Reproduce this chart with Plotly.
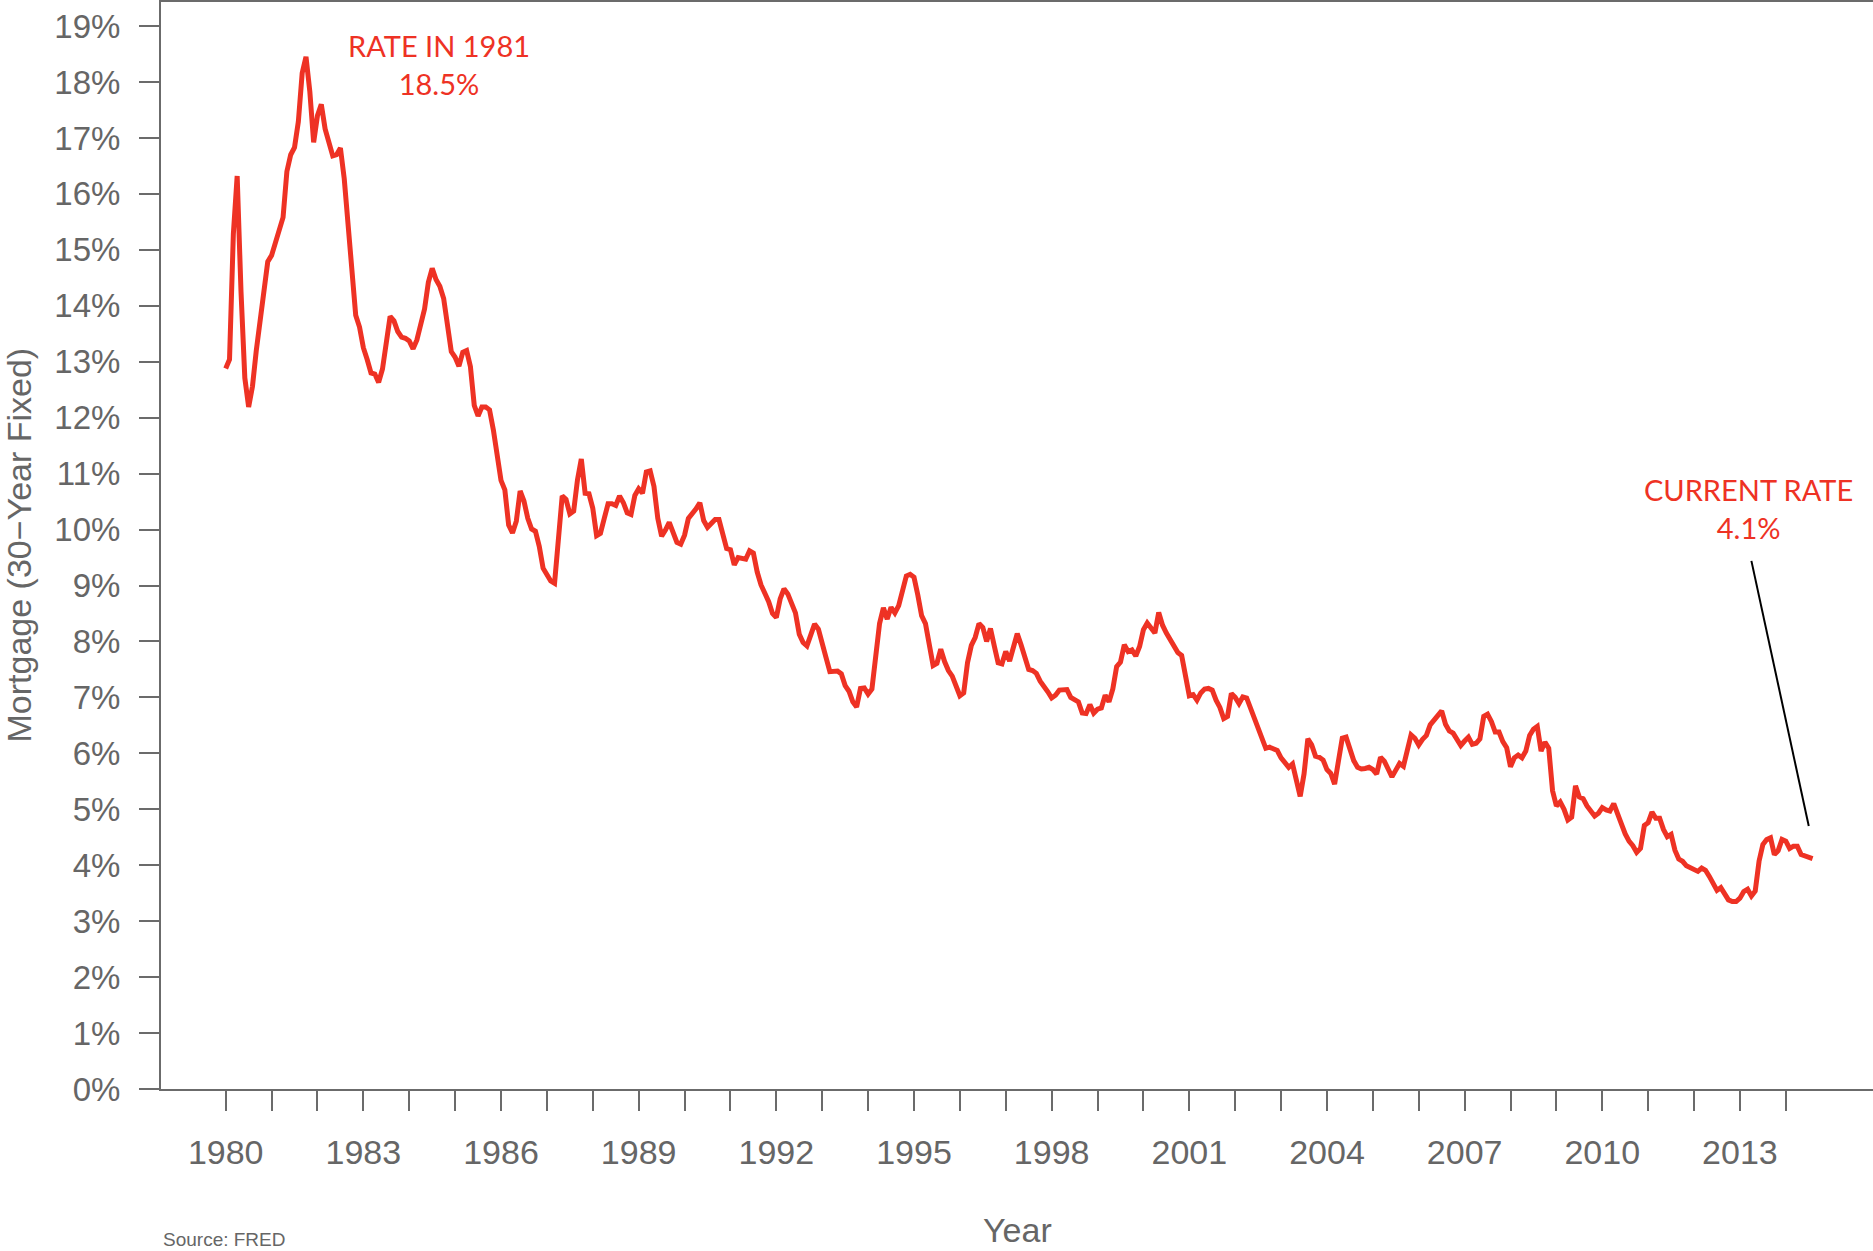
import plotly.graph_objects as go

# Monthly 30-year fixed mortgage rate (%), Jan 1980 – Aug 2014
start_year = 1980
rates_1980s = [
    12.88, 13.04, 15.28, 16.32, 14.26, 12.71, 12.19, 12.56, 13.20, 13.79, 14.21, 14.79,
    14.90, 15.13, 15.40, 15.58, 16.40, 16.70, 16.83, 17.29, 18.16, 18.45, 17.83, 16.92,
    17.40, 17.60, 17.16, 16.89, 16.68, 16.70, 16.82, 16.27, 15.43, 14.61, 13.83, 13.62,
    13.25, 13.04, 12.80, 12.78, 12.63, 12.87, 13.42, 13.81, 13.73, 13.54, 13.44, 13.42,
    13.37, 13.23, 13.39, 13.65, 13.94, 14.42, 14.67, 14.47, 14.35, 14.13, 13.64, 13.18,
    13.08, 12.92, 13.17, 13.20, 12.91, 12.22, 12.03, 12.19, 12.19, 12.14, 11.78, 11.26,
    10.88, 10.71, 10.08, 9.94, 10.15, 10.69, 10.51, 10.20, 10.01, 9.97, 9.70, 9.31,
    9.20, 9.08, 9.04, 9.83, 10.60, 10.54, 10.28, 10.33, 10.89, 11.26, 10.65, 10.64,
    10.38, 9.89, 9.93, 10.20, 10.46, 10.46, 10.43, 10.60, 10.48, 10.30, 10.27, 10.61,
    10.73, 10.65, 11.03, 11.05, 10.77, 10.20, 9.88, 9.99, 10.13, 9.95, 9.77, 9.74,
]
rates_1990s = [
    9.90, 10.20, 10.27, 10.37, 10.48, 10.16, 10.04, 10.10, 10.18, 10.18, 9.95, 9.66,
    9.64, 9.37, 9.50, 9.49, 9.47, 9.62, 9.58, 9.24, 9.01, 8.86, 8.71, 8.50,
    8.43, 8.76, 8.94, 8.85, 8.67, 8.51, 8.13, 7.98, 7.92, 8.09, 8.31, 8.22,
    7.92, 7.71, 7.46, 7.46, 7.47, 7.42, 7.21, 7.11, 6.92, 6.83, 7.16, 7.17,
    7.06, 7.15, 7.68, 8.32, 8.60, 8.40, 8.61, 8.51, 8.64, 8.93, 9.17, 9.20,
    9.15, 8.83, 8.46, 8.32, 7.96, 7.57, 7.61, 7.86, 7.64, 7.48, 7.38, 7.20,
    7.03, 7.08, 7.62, 7.93, 8.07, 8.32, 8.25, 8.00, 8.23, 7.92, 7.62, 7.60,
    7.82, 7.65, 7.90, 8.14, 7.94, 7.69, 7.50, 7.48, 7.43, 7.29, 7.21, 7.10,
    6.99, 7.04, 7.13, 7.14, 7.14, 7.00, 6.95, 6.92, 6.72, 6.71, 6.87, 6.72,
    6.79, 6.81, 7.04, 6.92, 7.15, 7.55, 7.63, 7.94, 7.82, 7.85, 7.74, 7.91,
]
rates_2000s = [
    8.21, 8.33, 8.24, 8.15, 8.52, 8.29, 8.15, 8.03, 7.91, 7.80, 7.75, 7.38,
    7.03, 7.05, 6.95, 7.08, 7.15, 7.16, 7.13, 6.95, 6.82, 6.62, 6.66, 7.07,
    7.00, 6.89, 7.01, 6.99, 6.81, 6.65, 6.49, 6.29, 6.09, 6.11, 6.07, 6.05,
    5.92, 5.84, 5.75, 5.81, 5.48, 5.23, 5.63, 6.26, 6.15, 5.95, 5.93, 5.88,
    5.71, 5.64, 5.45, 5.83, 6.27, 6.29, 6.06, 5.87, 5.75, 5.72, 5.73, 5.75,
    5.71, 5.63, 5.93, 5.86, 5.72, 5.58, 5.70, 5.82, 5.77, 6.07, 6.33, 6.27,
    6.15, 6.25, 6.32, 6.51, 6.60, 6.68, 6.76, 6.52, 6.40, 6.36, 6.24, 6.14,
    6.22, 6.29, 6.16, 6.18, 6.26, 6.66, 6.70, 6.57, 6.38, 6.38, 6.21, 6.10,
    5.76, 5.92, 5.97, 5.92, 6.04, 6.32, 6.43, 6.48, 6.04, 6.20, 6.09, 5.33,
    5.06, 5.13, 5.00, 4.81, 4.86, 5.42, 5.22, 5.19, 5.06, 4.95, 4.88, 4.93,
]
rates_2010s = [
    5.03, 4.99, 4.97, 5.10, 4.89, 4.74, 4.56, 4.43, 4.35, 4.23, 4.30, 4.71,
    4.76, 4.95, 4.84, 4.84, 4.64, 4.51, 4.55, 4.27, 4.11, 4.07, 3.99, 3.96,
    3.92, 3.89, 3.95, 3.91, 3.80, 3.68, 3.55, 3.60, 3.50, 3.38, 3.35, 3.35,
    3.41, 3.53, 3.57, 3.45, 3.54, 4.07, 4.37, 4.46, 4.49, 4.19, 4.26, 4.46,
    4.43, 4.30, 4.34, 4.34, 4.19, 4.16, 4.13, 4.12,
]
rates = rates_1980s + rates_1990s + rates_2000s + rates_2010s
months = [start_year + i / 12 for i in range(len(rates))]

tick_years = list(range(1980, 2015))
labelled_years = [1980, 1983, 1986, 1989, 1992, 1995, 1998, 2001, 2004, 2007, 2010, 2013]
y_ticks = list(range(0, 20))

RED = "#ee3224"
GRAY = "#6b6b6b"
TXT = "#666666"

L = 161
W = 1873
H = 1251
plot_w = W - L

fig = go.Figure()
fig.add_trace(go.Scatter(
    x=months, y=rates, mode="lines",
    line=dict(color=RED, width=5), hoverinfo="skip", showlegend=False,
))

# pointer line for current rate
fig.add_shape(type="line", xref="x", yref="y",
              x0=2013.25, y0=9.44, x1=2014.5, y1=4.70,
              line=dict(color="black", width=2))

fig.add_annotation(x=1984.64, y=18.32, xref="x", yref="y",
                   text="RATE IN 1981<br>18.5%", showarrow=False,
                   font=dict(family="Lato", size=29, color=RED),
                   align="center", xanchor="center", yanchor="middle")
fig.add_annotation(x=2013.18, y=10.37, xref="x", yref="y",
                   text="CURRENT RATE<br>4.1%", showarrow=False,
                   font=dict(family="Lato", size=29, color=RED),
                   align="center", xanchor="center", yanchor="middle")

# axis titles and source
fig.add_annotation(x=(18 - L) / plot_w, y=0.5, xref="paper", yref="paper",
                   text="Mortgage (30\u2212Year Fixed)", showarrow=False, textangle=-90,
                   font=dict(family="Liberation Sans", size=34, color=TXT),
                   xanchor="center", yanchor="middle")
fig.add_annotation(x=0.5, y=0, xref="paper", yref="paper",
                   text="Year", showarrow=False,
                   font=dict(family="Liberation Sans", size=34, color=TXT),
                   xanchor="center", yanchor="middle", yshift=-141)
fig.add_annotation(x=0, y=0, xref="paper", yref="paper",
                   text="Source: FRED", showarrow=False,
                   font=dict(family="Liberation Sans", size=19, color=TXT),
                   xanchor="left", yanchor="middle", yshift=-150)

fig.update_xaxes(
    range=[1978.59, 2015.9],
    tickvals=tick_years,
    ticktext=[str(y) if y in labelled_years else "" for y in tick_years],
    showline=True, linecolor=GRAY, linewidth=2, mirror=True,
    ticks="outside", ticklen=20, tickwidth=2, tickcolor=GRAY,
    tickfont=dict(family="Liberation Sans", size=34, color=TXT),
    ticklabelstandoff=12,
    showgrid=False, zeroline=False,
)
fig.update_yaxes(
    range=[0, 19.43],
    tickvals=y_ticks,
    ticktext=[f"{v}%" for v in y_ticks],
    showline=True, linecolor=GRAY, linewidth=2,
    ticks="outside", ticklen=20, tickwidth=2, tickcolor=GRAY,
    tickfont=dict(family="Liberation Sans", size=33, color=TXT),
    ticklabelstandoff=12,
    showgrid=False, zeroline=False,
)

fig.update_layout(
    width=W, height=H,
    margin=dict(l=L, r=0, t=2, b=162, autoexpand=False),
    plot_bgcolor="white", paper_bgcolor="white",
    showlegend=False,
)

fig.write_html("out.html", config={"displayModeBar": False},
               post_script="document.body.style.margin='0';document.body.style.overflow='hidden';")
